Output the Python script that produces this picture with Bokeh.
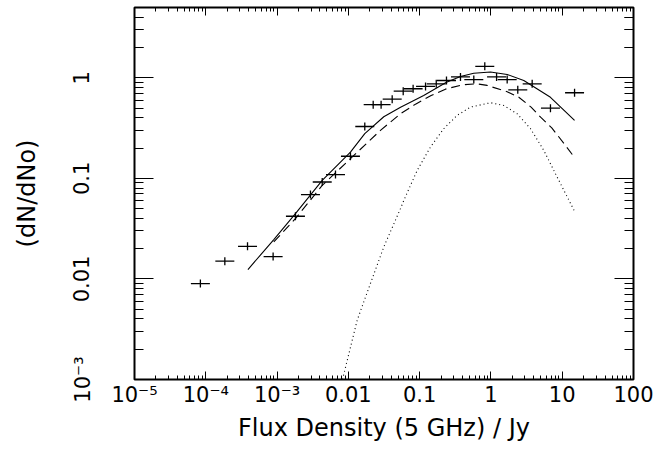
import numpy as np
from bokeh.plotting import figure
from bokeh.models import LogAxis, FixedTicker, CustomJSTickFormatter
from bokeh.embed import file_html
from bokeh.resources import INLINE

# ---- data ----
pts_x = [8.4e-5, 1.85e-4, 3.85e-4, 8.8e-4, 1.81e-3, 2.94e-3, 4.3e-3, 6.6e-3, 0.0107,
         0.017, 0.0223, 0.0288, 0.0412, 0.0588, 0.081, 0.121, 0.171, 0.238, 0.374,
         0.575, 0.82, 1.20, 1.69, 2.38, 3.79, 6.84, 14.9]
pts_y = [0.009, 0.015, 0.0211, 0.0167, 0.042, 0.069, 0.092, 0.109, 0.166,
         0.328, 0.54, 0.54, 0.613, 0.736, 0.778, 0.82, 0.871, 0.94, 1.02,
         0.96, 1.30, 1.02, 0.96, 0.76, 0.871, 0.499, 0.71]

solid_x = [3.9e-4, 9.0e-4, 1.81e-3, 4.3e-3, 0.0107, 0.017, 0.0314, 0.054, 0.114, 0.238,
           0.374, 0.575, 0.986, 1.69, 2.89, 6.84, 14.9]
solid_y = [0.0124, 0.0246, 0.0446, 0.0955, 0.182, 0.278, 0.41, 0.51, 0.667, 0.904,
           1.03, 1.11, 1.14, 1.08, 0.94, 0.64, 0.377]

dashed_x = [9.0e-4, 1.81e-3, 4.3e-3, 0.0107, 0.0282, 0.0538, 0.0875, 0.145, 0.230,
            0.395, 0.641, 0.885, 1.69, 2.46, 3.66, 5.06, 7.14, 10.8, 14.9]
dashed_y = [0.0233, 0.0398, 0.0851, 0.157, 0.300, 0.439, 0.547, 0.667, 0.771,
            0.851, 0.871, 0.840, 0.726, 0.641, 0.511, 0.401, 0.318, 0.218, 0.161]

dotted_x = [8.28e-3, 0.0133, 0.0204, 0.0314, 0.0538, 0.060, 0.0923, 0.142, 0.218,
            0.336, 0.516, 0.986, 1.51, 2.33, 3.59, 5.51, 8.49, 14.9]
dotted_y = [1.0e-3, 3.89e-3, 9.0e-3, 0.0208, 0.050, 0.0604, 0.120, 0.205, 0.312,
            0.423, 0.511, 0.565, 0.531, 0.439, 0.312, 0.190, 0.103, 0.047]

x_ticks = [1e-5, 1e-4, 1e-3, 1e-2, 1e-1, 1, 10, 100]
x_tick_labels = ["10\u207b\u2075", "10\u207b\u2074", "10\u207b\u00b3", "0.01", "0.1", "1", "10", "100"]
y_ticks = [1e-3, 1e-2, 1e-1, 1]
y_tick_labels = ["10\u207b\u00b3", "0.01", "0.1", "1"]

x_label = "Flux Density (5 GHz) / Jy"
y_label = "(dN/dNo)"

FONT = "DejaVu Sans"

x_minor = [m * 10.0 ** e for e in range(-5, 2) for m in range(2, 10)]
y_minor = [m * 10.0 ** e for e in range(-3, 1) for m in range(2, 10)] + [2.0, 3.0, 4.0]

p = figure(width=660, height=447, x_axis_type="log", y_axis_type="log",
           x_range=(1e-5, 100), y_range=(1e-3, 5),
           output_backend="svg", toolbar_location=None,
           min_border_left=134, min_border_right=27, min_border_top=7,
           min_border_bottom=68, background_fill_color="white",
           border_fill_color="white")
p.grid.visible = False
p.outline_line_color = "black"
p.outline_line_width = 2

fmt_code = """
let best = 0, bd = 1e9;
for (let i = 0; i < vals.length; i++) {
  const d = Math.abs(Math.log10(tick) - Math.log10(vals[i]));
  if (d < bd) { bd = d; best = i; }
}
return labs[best];
"""

xa = p.xaxis[0]
xa.ticker = FixedTicker(ticks=x_ticks, minor_ticks=x_minor)
xa.formatter = CustomJSTickFormatter(args=dict(vals=x_ticks, labs=x_tick_labels), code=fmt_code)
ya = p.yaxis[0]
ya.ticker = FixedTicker(ticks=y_ticks, minor_ticks=y_minor)
ya.formatter = CustomJSTickFormatter(args=dict(vals=y_ticks, labs=y_tick_labels), code=fmt_code)

xa.major_tick_in = 8
xa.major_tick_out = 0
xa.minor_tick_in = 4
xa.minor_tick_out = 0
xa.major_label_standoff = 3
xa.major_label_text_font = FONT
xa.major_label_text_font_size = "21px"
xa.axis_label = x_label
xa.axis_label_text_font = FONT
xa.axis_label_text_font_size = "24px"
xa.axis_label_text_font_style = "normal"
xa.axis_label_standoff = 4

ya.major_tick_in = 19
ya.major_tick_out = 0
ya.minor_tick_in = 9
ya.minor_tick_out = 0
ya.major_label_standoff = 40
ya.major_label_orientation = "vertical"
ya.major_label_text_font = FONT
ya.major_label_text_font_size = "21px"
ya.axis_label = y_label
ya.axis_label_text_font = FONT
ya.axis_label_text_font_size = "24px"
ya.axis_label_text_font_style = "normal"
ya.axis_label_standoff = 27

for ax in (xa, ya):
    ax.axis_line_color = None
    ax.major_tick_line_color = "black"
    ax.minor_tick_line_color = "black"
    ax.major_label_text_color = "black"
    ax.axis_label_text_color = "black"

top = LogAxis(ticker=FixedTicker(ticks=x_ticks, minor_ticks=x_minor),
              formatter=CustomJSTickFormatter(code="return '';"),
              major_tick_in=8, major_tick_out=0, minor_tick_in=4, minor_tick_out=0,
              major_label_text_font_size="1px", major_label_text_alpha=0,
              major_label_standoff=0, axis_line_color=None)
right = LogAxis(ticker=FixedTicker(ticks=y_ticks, minor_ticks=y_minor),
                formatter=CustomJSTickFormatter(code="return '';"),
                major_tick_in=19, major_tick_out=0, minor_tick_in=9, minor_tick_out=0,
                major_label_text_font_size="1px", major_label_text_alpha=0,
                major_label_standoff=0, axis_line_color=None)
p.add_layout(top, "above")
p.add_layout(right, "right")

p.line(solid_x, solid_y, line_color="black", line_width=1.1)
p.line(dashed_x, dashed_y, line_color="black", line_width=1.1, line_dash="9 5")
p.line(dotted_x, dotted_y, line_color="black", line_width=1.1, line_dash="1 3")

p.scatter(pts_x, pts_y, marker="dash", size=19, line_color="black", line_width=1.3)
p.scatter(pts_x, pts_y, marker="dash", size=8, angle=np.pi / 2, line_color="black", line_width=1.3)

open("out.html", "w").write(file_html(p, INLINE))
